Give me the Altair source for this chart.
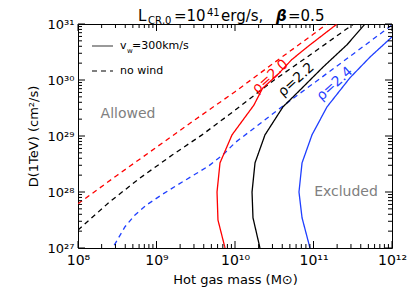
import altair as alt
import pandas as pd

FONT = "DejaVu Sans"
W, H = 314, 224

# ---- data (log10 of mass in Msun, log10 of D in cm^2/s) ----
red_dash_logM = [8.0, 8.5, 9.0, 9.5, 10.0, 10.5, 11.0, 11.17]
red_dash_logD = [27.79, 28.3, 28.8, 29.3, 29.79, 30.31, 30.82, 31.0]
blk_dash_logM = [8.0, 8.4, 8.79, 9.2, 9.58, 10.0, 10.5, 11.0, 11.51]
blk_dash_logD = [27.32, 27.82, 28.25, 28.66, 29.02, 29.46, 30.0, 30.49, 31.0]
blu_dash_logM = [8.462, 8.599, 8.726, 8.875, 9.066, 9.236, 9.448, 9.66, 9.851, 10.0, 10.7, 11.3, 11.885, 12.0]
blu_dash_logD = [27.05, 27.38, 27.59, 27.77, 27.95, 28.1, 28.28, 28.46, 28.67, 28.88, 29.63, 30.25, 30.86, 30.98]
red_solid_logM = [9.873, 9.783, 9.771, 9.809, 9.962, 10.24, 10.35, 10.56, 10.72, 10.93, 11.30]
red_solid_logD = [27.0, 27.5, 28.0, 28.52, 29.02, 29.55, 29.85, 30.12, 30.36, 30.6, 31.0]
blk_solid_logM = [10.318, 10.229, 10.217, 10.255, 10.382, 10.611, 10.828, 11.121, 11.427, 11.656]
blk_solid_logD = [27.0, 27.54, 28.0, 28.52, 29.02, 29.52, 29.82, 30.23, 30.63, 31.0]
blu_solid_logM = [10.955, 10.854, 10.815, 10.854, 10.981, 11.172, 11.465, 11.72, 12.0]
blu_solid_logD = [27.0, 27.54, 28.0, 28.52, 29.02, 29.52, 30.04, 30.41, 30.77]

series = [
    ("red_dash", "#ff0000", "dash", red_dash_logM, red_dash_logD),
    ("blk_dash", "#000000", "dash", blk_dash_logM, blk_dash_logD),
    ("blu_dash", "#1f3fff", "dash", blu_dash_logM, blu_dash_logD),
    ("red_solid", "#ff0000", "solid", red_solid_logM, red_solid_logD),
    ("blk_solid", "#000000", "solid", blk_solid_logM, blk_solid_logD),
    ("blu_solid", "#1f3fff", "solid", blu_solid_logM, blu_solid_logD),
]

x_tick_exps = [8, 9, 10, 11, 12]
x_tick_labels = ["10⁸", "10⁹", "10¹⁰", "10¹¹", "10¹²"]
y_tick_exps = [27, 28, 29, 30, 31]
y_tick_labels = ["10²⁷", "10²⁸", "10²⁹", "10³⁰", "10³¹"]
minor_mult = [2, 3, 4, 5, 6, 7, 8, 9]

curve_labels = ["ρ=2.0", "ρ=2.2", "ρ=2.4"]
curve_label_colors = ["#ff0000", "#000000", "#1f3fff"]
curve_label_logM = [10.45, 10.78, 11.27]
curve_label_logD = [30.06, 30.0, 29.93]

region_labels = ["Allowed", "Excluded"]
region_logM = [8.637, 11.414]
region_logD = [29.39, 28.0]

# ---- tables ----
rows = []
for name, col, dash, lm, ld in series:
    for i, (a, b) in enumerate(zip(lm, ld)):
        rows.append({"series": name, "color": col, "dash": dash, "idx": i,
                     "M": 10 ** a, "D": 10 ** b})
df = pd.DataFrame(rows)

xmaj = pd.DataFrame({"M": [10.0 ** e for e in x_tick_exps]})
ymaj = pd.DataFrame({"D": [10.0 ** e for e in y_tick_exps]})
xmin = pd.DataFrame({"M": [k * 10.0 ** e for e in x_tick_exps[:-1] for k in minor_mult]})
ymin = pd.DataFrame({"D": [k * 10.0 ** e for e in y_tick_exps[:-1] for k in minor_mult]})

xscale = alt.Scale(type="log", domain=[1e8, 1e12], nice=False)
yscale = alt.Scale(type="log", domain=[1e27, 1e31], nice=False)

xlab_expr = ("[" + ",".join("'%s'" % s for s in x_tick_labels) +
             "][round(log(datum.value)/log(10))-%d]" % x_tick_exps[0])
ylab_expr = ("[" + ",".join("'%s'" % s for s in y_tick_labels) +
             "][round(log(datum.value)/log(10))-%d]" % y_tick_exps[0])

xaxis = alt.Axis(values=[10.0 ** e for e in x_tick_exps], labelExpr=xlab_expr,
                 title="Hot gas mass (M⊙)", labelFontSize=14, titleFontSize=13,
                 labelPadding=5, titleY=31, titleBaseline="middle",
                 titleFontWeight="normal", grid=False, labelFlush=False,
                 domain=False, ticks=False)
yaxis = alt.Axis(values=[10.0 ** e for e in y_tick_exps], labelExpr=ylab_expr,
                 title="D(1TeV) (cm²/s)", labelFontSize=13, titleFontSize=13,
                 labelPadding=4, titleX=-45, titleBaseline="middle",
                 titleAngle=270, titleFontWeight="normal",
                 grid=False, labelFlush=False, domain=False, ticks=False)

X = alt.X("M:Q", scale=xscale, axis=xaxis)
Y = alt.Y("D:Q", scale=yscale, axis=yaxis)

lines = alt.Chart(df).mark_line(strokeWidth=1.3, clip=True).encode(
    x=X, y=Y,
    color=alt.Color("color:N", scale=None),
    strokeDash=alt.StrokeDash("dash:N", scale=alt.Scale(domain=["solid", "dash"],
                                                         range=[[1, 0], [5, 4]]), legend=None),
    detail="series:N",
    order="idx:Q",
)

def xticks(d, ln):
    bot = alt.Chart(d).mark_rule(color="black", strokeWidth=1).encode(
        x=X, y=alt.value(H), y2=alt.value(H - ln))
    top = alt.Chart(d).mark_rule(color="black", strokeWidth=1).encode(
        x=X, y=alt.value(0), y2=alt.value(ln))
    return [bot, top]

def yticks(d, ln):
    lef = alt.Chart(d).mark_rule(color="black", strokeWidth=1).encode(
        y=Y, x=alt.value(0), x2=alt.value(ln))
    rig = alt.Chart(d).mark_rule(color="black", strokeWidth=1).encode(
        y=Y, x=alt.value(W), x2=alt.value(W - ln))
    return [lef, rig]

ticks = xticks(xmaj, 7) + xticks(xmin, 4) + yticks(ymaj, 7) + yticks(ymin, 4)

cl_df = pd.DataFrame({"t": curve_labels, "c": curve_label_colors,
                      "M": [10 ** v for v in curve_label_logM],
                      "D": [10 ** v for v in curve_label_logD]})
curve_text = alt.Chart(cl_df).mark_text(font=FONT, fontSize=14, angle=318,
                                        align="center", baseline="middle").encode(
    x=X, y=Y, text="t:N", color=alt.Color("c:N", scale=None))

rg_df = pd.DataFrame({"t": region_labels,
                      "M": [10 ** v for v in region_logM],
                      "D": [10 ** v for v in region_logD]})
region_text = alt.Chart(rg_df).mark_text(font=FONT, fontSize=14, color="#808080",
                                         align="center", baseline="middle").encode(
    x=X, y=Y, text="t:N")

one = pd.DataFrame({"a": [0]})

def txt(s, x, y, size, **kw):
    return alt.Chart(one).mark_text(text=s, font=FONT, fontSize=size, align="left",
                                    **kw).encode(x=alt.value(x), y=alt.value(y))

legend = [
    alt.Chart(one).mark_rule(color="#555555", strokeWidth=1.2).encode(
        x=alt.value(14), x2=alt.value(35), y=alt.value(22)),
    alt.Chart(one).mark_rule(color="black", strokeWidth=1.2, strokeDash=[5, 4]).encode(
        x=alt.value(14), x2=alt.value(35), y=alt.value(47)),
    txt("v", 42, 22, 11, baseline="middle"),
    txt("w", 49, 27, 7, baseline="middle"),
    txt("=300km/s", 54, 22, 11, baseline="middle"),
    txt("no wind", 42, 47, 11, baseline="middle"),
]

title = [
    txt("L", 60, -3, 15, baseline="alphabetic"),
    txt("CR,0", 70, 0, 10, baseline="alphabetic"),
    txt("=10", 96, -3, 15, baseline="alphabetic"),
    txt("41", 129, -8, 10, baseline="alphabetic"),
    txt("erg/s,", 143, -3, 15, baseline="alphabetic"),
    txt("β", 198, -3, 15, baseline="alphabetic", fontWeight="bold", fontStyle="italic"),
    txt("=0.5", 210, -3, 15, baseline="alphabetic"),
]

chart = alt.layer(lines, *ticks, curve_text, region_text, *legend, *title).properties(
    width=W, height=H,
    autosize=alt.AutoSizeParams(type="none"),
    padding={"left": 70, "top": 16, "right": 15, "bottom": 41},
).configure_view(stroke="black", strokeWidth=1).configure_axis(
    labelFont=FONT, titleFont=FONT, labelColor="black", titleColor="black"
)

chart.save("out.html", embed_options={"renderer": "svg", "actions": False})
